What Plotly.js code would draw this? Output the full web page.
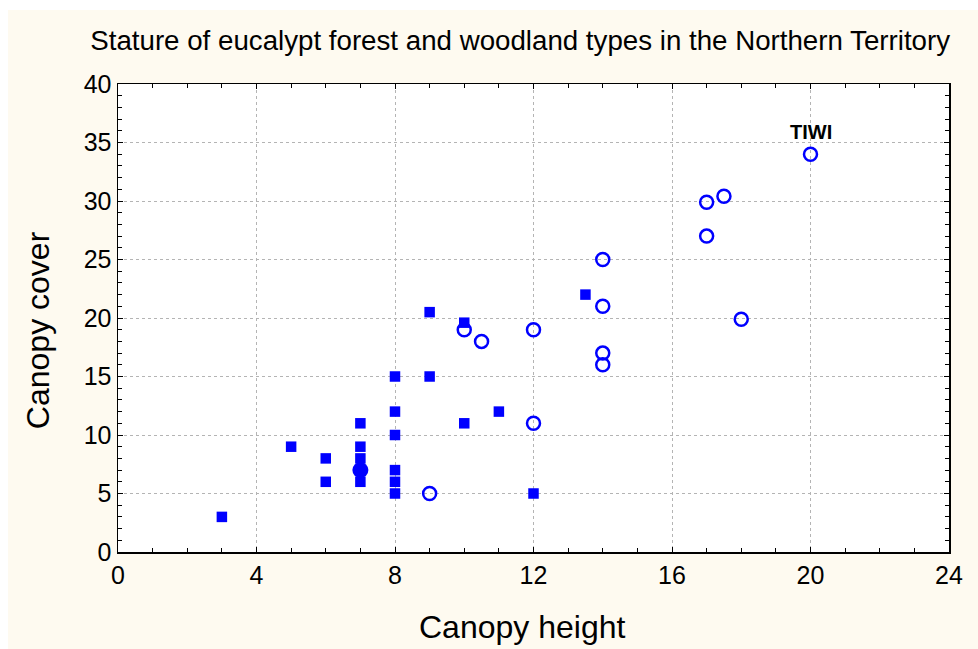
<!DOCTYPE html>
<html>
<head>
<meta charset="utf-8">
<script src="https://cdn.plot.ly/plotly-3.0.1.min.js"></script>
<style>
html, body { margin: 0; padding: 0; background: #ffffff; }
#chart { position: absolute; left: 8px; top: 10px; width: 970px; height: 639px; }
</style>
</head>
<body>
<div id="chart"></div>
<script>
// Data
const squareHeight = [3, 5, 6, 6, 7, 7, 7, 7, 8, 8, 8, 8, 8, 8, 9, 9, 10, 10, 11, 12, 13.5];
const squareCover  = [3, 9, 8, 6, 11, 9, 8, 6, 15, 12, 10, 7, 6, 5, 20.5, 15, 19.6, 11, 12, 5, 22];

const dotHeight = [7];
const dotCover  = [7];

const circleHeight = [9, 10, 10.5, 12, 12, 14, 14, 14, 14, 17, 17, 17.5, 18, 20];
const circleCover  = [5, 19, 18, 19, 11, 25, 21, 17, 16, 29.9, 27, 30.4, 19.9, 34];

const labelText = 'TIWI';
const labelHeight = 20;
const labelCover = 34;

const xTicks = [0, 4, 8, 12, 16, 20, 24];
const yTicks = [0, 5, 10, 15, 20, 25, 30, 35, 40];

const xTitle = 'Canopy height';
const yTitle = 'Canopy cover';

const blue = '#0000ff';
const font = 'Liberation Sans, Arial, sans-serif';

const traces = [
  {
    type: 'scatter', mode: 'markers',
    x: squareHeight, y: squareCover,
    marker: { symbol: 'square', size: 10.5, color: blue, line: { width: 0 } },
    hoverinfo: 'x+y'
  },
  {
    type: 'scatter', mode: 'markers',
    x: dotHeight, y: dotCover,
    marker: { symbol: 'circle', size: 16, color: blue, line: { width: 0 } },
    hoverinfo: 'x+y'
  },
  {
    type: 'scatter', mode: 'markers',
    x: circleHeight, y: circleCover,
    marker: { symbol: 'circle-open', size: 13, color: blue, line: { width: 2.5, color: blue } },
    hoverinfo: 'x+y'
  }
];

const axisCommon = {
  showline: true, linecolor: '#000000', linewidth: 1.5, mirror: 'allticks',
  ticks: 'inside', ticklen: 5, tickcolor: '#000000', tickwidth: 1,
  showgrid: true, gridcolor: '#b4b4b4', griddash: 'dot', gridwidth: 1,
  zeroline: false,
  tickfont: { family: font, size: 25, color: '#000000' },
  tickmode: 'array',
  fixedrange: true
};

const layout = {
  width: 970, height: 639,
  paper_bgcolor: '#fefaf0',
  plot_bgcolor: '#ffffff',
  showlegend: false,
  margin: { l: 110, r: 29, t: 74, b: 97, pad: 0 },
  title: {
    text: 'Stature of eucalypt forest and woodland types in the Northern Territory',
    font: { family: font, size: 27.7, color: '#000000' },
    x: 0.528, xanchor: 'center', y: 0.953, yanchor: 'middle'
  },
  xaxis: Object.assign({}, axisCommon, {
    range: [0, 24], tickvals: xTicks, ticktext: xTicks.map(String),
    minor: { tickmode: 'linear', tick0: 0, dtick: 1, ticks: 'inside', ticklen: 4, tickcolor: '#000000', showgrid: false }
  }),
  yaxis: Object.assign({}, axisCommon, {
    range: [0, 40], tickvals: yTicks, ticktext: yTicks.map(String),
    minor: { tickmode: 'linear', tick0: 0, dtick: 1, ticks: 'inside', ticklen: 4, tickcolor: '#000000', showgrid: false }
  }),
  annotations: [
    {
      x: labelHeight, y: labelCover, xref: 'x', yref: 'y',
      text: '<b>' + labelText + '</b>', showarrow: false,
      yshift: 22,
      font: { family: font, size: 20, color: '#000000' }
    },
    {
      x: 0.486, y: -0.160, xref: 'paper', yref: 'paper',
      xanchor: 'center', yanchor: 'middle',
      text: xTitle, showarrow: false,
      font: { family: font, size: 32, color: '#000000' }
    },
    {
      x: -0.0963, y: 0.474, xref: 'paper', yref: 'paper',
      xanchor: 'center', yanchor: 'middle', textangle: -90,
      text: yTitle, showarrow: false,
      font: { family: font, size: 32, color: '#000000' }
    }
  ]
};

Plotly.newPlot('chart', traces, layout, { displayModeBar: false, staticPlot: true });
</script>
</body>
</html>
